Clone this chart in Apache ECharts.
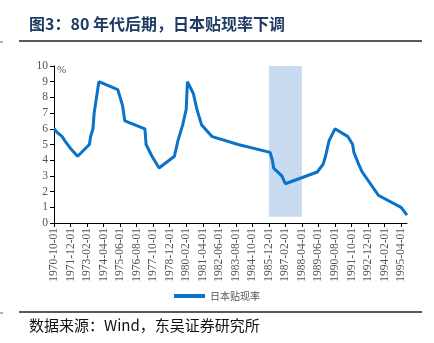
<!DOCTYPE html>
<html>
<head>
<meta charset="utf-8">
<script src="https://cdn.jsdelivr.net/npm/echarts@6/dist/echarts.min.js"></script>
<style>html,body{margin:0;padding:0;background:#fff}#c{width:434px;height:343px}</style>
</head>
<body>
<div id="c"></div>
<script>
// Japan discount rate, change dates (YYYY-MM) and values (%)
var changeDates = ['1970-10','1971-01','1971-05','1971-07','1971-12','1972-06','1973-04','1973-05','1973-07','1973-08','1973-12','1975-04','1975-06','1975-08','1975-10','1977-03','1977-04','1977-09','1978-03','1979-04','1979-07','1979-11','1980-02','1980-03','1980-08','1980-11','1981-03','1981-12','1983-10','1986-01','1986-03','1986-04','1986-11','1987-02','1989-05','1989-10','1989-12','1990-03','1990-08','1991-07','1991-11','1991-12','1992-04','1992-07','1993-02','1993-09','1995-04','1995-09'];
var rateValues = [6.0,5.75,5.5,5.25,4.75,4.25,5.0,5.5,6.0,7.0,9.0,8.5,8.0,7.5,6.5,6.0,5.0,4.25,3.5,4.25,5.25,6.25,7.25,9.0,8.25,7.25,6.25,5.5,5.0,4.5,4.0,3.5,3.0,2.5,3.25,3.75,4.25,5.25,6.0,5.5,5.0,4.5,3.75,3.25,2.5,1.75,1.0,0.5];
var tickLabels = ['1970-10-01','1971-12-01','1973-02-01','1974-04-01','1975-06-01','1976-08-01','1977-10-01','1978-12-01','1980-02-01','1981-04-01','1982-06-01','1983-08-01','1984-10-01','1985-12-01','1987-02-01','1988-04-01','1989-06-01','1990-08-01','1991-10-01','1992-12-01','1994-02-01','1995-04-01'];
var axisEnd = '1995-09';
var bandStart = '1985-12';
var bandEnd = '1988-04';
var bandLow = 0.4, bandHigh = 10;

function monthIdx(s){ var p = s.split('-'); return (parseInt(p[0],10)-1970)*12 + (parseInt(p[1],10)-10); }
var seriesData = changeDates.map(function(d,i){ return [monthIdx(d), rateValues[i]]; });
var tickVals = tickLabels.map(function(t){ return monthIdx(t.slice(0,7)); });
var labelMap = {}; tickVals.forEach(function(v,i){ labelMap[v] = tickLabels[i]; });

var chart = echarts.init(document.getElementById('c'));
chart.setOption({
  animation: false,
  grid: { left: 54, right: 27, top: 66, bottom: 120 },
  graphic: [
    { type: 'text', left: 29, top: 16, style: { text: '图3：80 年代后期，日本贴现率下调', font: 'bold 16px "Noto Sans CJK SC"', fill: '#1f3a63' } },
    { type: 'line', shape: { x1: 19, y1: 41, x2: 422, y2: 41 }, style: { stroke: '#222', lineWidth: 1.5 } },
    { type: 'line', shape: { x1: 0, y1: 42, x2: 3, y2: 42 }, style: { stroke: '#666', lineWidth: 1 } },
    { type: 'line', shape: { x1: 19, y1: 312, x2: 422, y2: 312 }, style: { stroke: '#222', lineWidth: 1.5 } },
    { type: 'line', shape: { x1: 0, y1: 313, x2: 3, y2: 313 }, style: { stroke: '#666', lineWidth: 1 } },
    { type: 'text', left: 29, top: 318, style: { text: '数据来源：Wind，东吴证券研究所', font: '15px "Noto Sans CJK SC"', fill: '#111' } }
  ],
  legend: {
    bottom: 37, left: 'center', itemWidth: 31, itemHeight: 4, itemGap: 4,
    icon: 'rect',
    textStyle: { fontSize: 10, color: '#555', fontFamily: 'Noto Sans CJK SC' },
    data: ['日本贴现率']
  },
  xAxis: {
    type: 'value', min: 0, max: monthIdx(axisEnd),
    splitLine: { show: false },
    axisLine: { show: true, lineStyle: { color: '#000', width: 1 } },
    axisTick: { show: true, customValues: tickVals, length: 4, lineStyle: { color: '#000' } },
    axisLabel: {
      customValues: tickVals, rotate: 90, fontSize: 11.5, color: '#555', fontFamily: 'Liberation Serif', margin: 5,
      formatter: function(v){ return labelMap[v] || ''; }
    }
  },
  yAxis: {
    type: 'value', min: 0, max: 10, interval: 1,
    name: '%', nameLocation: 'end', nameGap: -10,
    nameTextStyle: { align: 'left', padding: [0,0,0,3], fontSize: 11, color: '#555', fontFamily: 'Liberation Serif' },
    splitLine: { show: false },
    axisLine: { show: true, lineStyle: { color: '#000', width: 1 } },
    axisTick: { show: true, length: 4, lineStyle: { color: '#000' } },
    axisLabel: { fontSize: 11.5, color: '#555', fontFamily: 'Liberation Serif', margin: 6 }
  },
  series: [{
    name: '日本贴现率', type: 'line', data: seriesData, showSymbol: false, symbol: 'none',
    lineStyle: { color: '#0a72c8', width: 3 }, itemStyle: { color: '#0a72c8' },
    markArea: {
      silent: true,
      itemStyle: { color: '#c9dbf1' },
      data: [[{ xAxis: monthIdx(bandStart), yAxis: bandLow }, { xAxis: monthIdx(bandEnd), yAxis: bandHigh }]]
    },
    z: 3
  }]
});
</script>
</body>
</html>
